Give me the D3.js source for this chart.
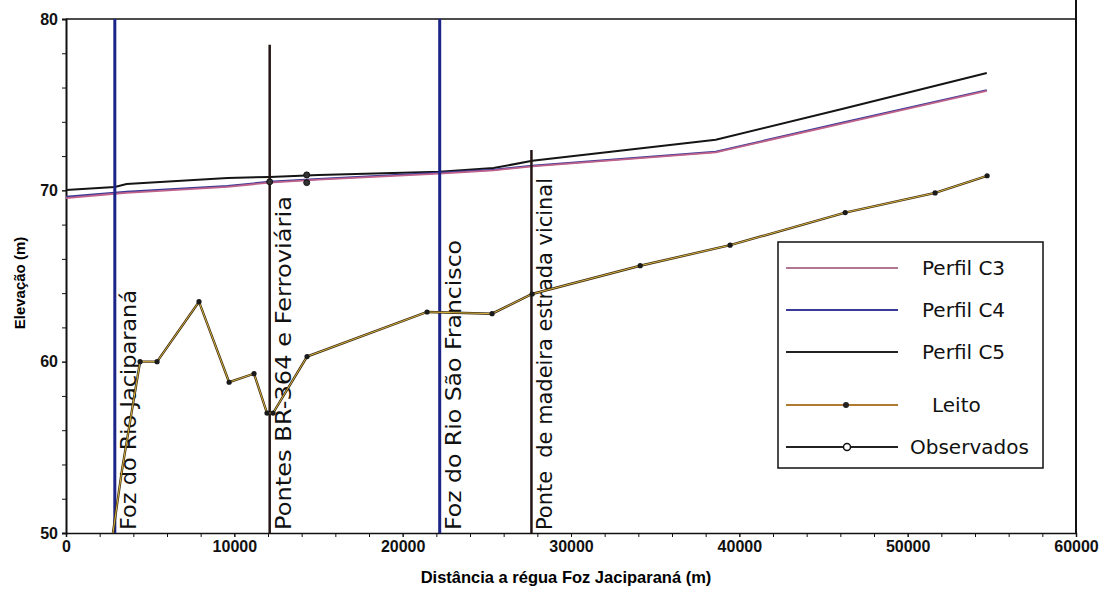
<!DOCTYPE html>
<html>
<head>
<meta charset="utf-8">
<script src="https://cdn.jsdelivr.net/npm/d3@7"></script>
<style>
  body { margin: 0; background: #fff; }
  svg { font-family: Arial, "Liberation Sans", sans-serif; }
  .tick text { font-weight: bold; font-size: 16px; fill: #111; }
  .domain, .tick line { stroke: #111; }
  .lbl { font-family: "DejaVu Sans", Arial, sans-serif; fill: #111; }
</style>
</head>
<body>
<div id="chart"></div>
<script>
// distances (m) where the simulated profiles were read
var perfilX  = [0, 2900, 3600, 9600, 12100, 15000, 22200, 25400, 27700, 38600, 46100, 54700];
var perfilC3 = [69.55, 69.8, 69.85, 70.2, 70.45, 70.62, 70.98, 71.16, 71.4, 72.22, 73.9, 75.8];
var perfilC4 = [69.62, 69.86, 69.92, 70.25, 70.5, 70.66, 71.02, 71.2, 71.44, 72.25, 73.95, 75.85];
var perfilC5 = [70.02, 70.2, 70.37, 70.72, 70.78, 70.9, 71.08, 71.3, 71.72, 72.95, 74.75, 76.85];

// river bed
var leitoX = [2790, 3330, 4400, 5410, 7900, 9690, 11170, 11940, 12300, 14320, 21450, 25310, 27690, 34110, 39450, 46290, 51630, 54720];
var leitoY = [50.0, 53.7, 60.0, 60.0, 63.5, 58.8, 59.3, 57.0, 57.0, 60.3, 62.9, 62.8, 63.95, 65.6, 66.8, 68.7, 69.85, 70.85];

// observed water levels
var obsX = [12100, 14300, 14300];
var obsY = [70.5, 70.9, 70.45];

// reference points along the river
var refNames = ["Foz do Rio Jaciparaná", "Pontes BR-364 e Ferroviária", "Foz do Rio São Francisco", "Ponte  de madeira estrada vicinal"];
var refX     = [2900, 12100, 22200, 27650];
var refTop   = [80, 78.5, 80, 72.35];
var refKind  = ["foz", "ponte", "foz", "ponte"];

var xTicks = [0, 10000, 20000, 30000, 40000, 50000, 60000];
var yTicks = [50, 60, 70, 80];

var legendNames = ["Perfil C3", "Perfil C4", "Perfil C5", "Leito", "Observados"];

var width = 1105, height = 600;
var svg = d3.select("#chart").append("svg")
  .attr("width", width).attr("height", height);

var x = d3.scaleLinear().domain([0, 60000]).range([66, 1076]);
var y = d3.scaleLinear().domain([50, 80]).range([533, 19]);

// frame (top and right)
svg.append("line").attr("x1", x(0)).attr("x2", x(60000)).attr("y1", y(80)).attr("y2", y(80))
  .attr("stroke", "#111").attr("stroke-width", 1.5);
svg.append("line").attr("x1", x(60000)).attr("x2", x(60000)).attr("y1", 0).attr("y2", y(50))
  .attr("stroke", "#111").attr("stroke-width", 2);

// axes
svg.append("g").attr("transform", "translate(0," + y(50) + ")")
  .call(d3.axisBottom(x).tickValues(d3.range(0, 60001, 2000)).tickSize(4).tickFormat(""))
  .call(g => g.select(".domain").attr("stroke-width", 1.5));
svg.append("g").attr("transform", "translate(0," + y(50) + ")")
  .call(d3.axisBottom(x).tickValues(xTicks).tickSize(4).tickPadding(4).tickFormat(d3.format("d")))
  .call(g => g.select(".domain").remove());
svg.append("g").attr("transform", "translate(" + x(0) + ",0)")
  .call(d3.axisLeft(y).tickValues(d3.range(50, 81, 2)).tickSize(4).tickFormat(""))
  .call(g => g.select(".domain").attr("stroke-width", 2));
svg.append("g").attr("transform", "translate(" + x(0) + ",0)")
  .call(d3.axisLeft(y).tickValues(yTicks).tickSize(4).tickPadding(4))
  .call(g => g.select(".domain").remove());

svg.append("text").attr("transform", "translate(25,283) rotate(-90)")
  .attr("text-anchor", "middle").style("font-size", "15px").style("font-weight", "bold")
  .text("Elevação (m)");
svg.append("text").attr("x", 566).attr("y", 583)
  .attr("text-anchor", "middle").style("font-size", "16.5px").style("font-weight", "bold")
  .text("Distância a régua Foz Jaciparaná (m)");

// profile lines
function profile(vals) {
  return d3.line().x((d, i) => x(perfilX[i])).y(d => y(d))(vals);
}
svg.append("path").attr("d", profile(perfilC5)).attr("fill", "none").attr("stroke", "#151515").attr("stroke-width", 2);
svg.append("path").attr("d", profile(perfilC4)).attr("fill", "none").attr("stroke", "#3a3a98").attr("stroke-width", 2);
svg.append("path").attr("d", profile(perfilC3)).attr("fill", "none").attr("stroke", "#c0628a").attr("stroke-width", 1.8);

// reference vertical lines with labels (label lengths stretched to the scan)
var labelLen = [240, 334, 290, 352];
refX.forEach(function (v, i) {
  var foz = refKind[i] == "foz";
  svg.append("line").attr("x1", x(v)).attr("x2", x(v)).attr("y1", y(refTop[i])).attr("y2", y(50))
    .attr("stroke", foz ? "#1c2488" : "#241414").attr("stroke-width", foz ? 3 : 2.5);
  svg.append("text").attr("class", "lbl")
    .attr("transform", "translate(" + (x(v) + 21) + "," + (y(50) - 3) + ") rotate(-90)")
    .style("font-size", "21px").attr("xml:space", "preserve")
    .attr("textLength", labelLen[i]).attr("lengthAdjust", "spacingAndGlyphs")
    .text(refNames[i]);
});

// river bed
var leitoLine = d3.line().x((d, i) => x(leitoX[i])).y(d => y(d));
svg.append("path").attr("d", leitoLine(leitoY)).attr("fill", "none").attr("stroke", "#3a2a12").attr("stroke-width", 2.4);
svg.append("path").attr("d", leitoLine(leitoY)).attr("fill", "none").attr("stroke", "#d8b440").attr("stroke-width", 1);
svg.selectAll(".leito").data(leitoY.slice(2)).enter().append("circle")
  .attr("cx", (d, i) => x(leitoX[i + 2])).attr("cy", d => y(d)).attr("r", 2.6).attr("fill", "#1a1a1a");

// observed
svg.selectAll(".obs").data(obsY).enter().append("circle")
  .attr("cx", (d, i) => x(obsX[i])).attr("cy", d => y(d)).attr("r", 3)
  .attr("fill", "#333").attr("stroke", "#111").attr("stroke-width", 1);

// legend
var lg = svg.append("g").attr("transform", "translate(778,242)");
lg.append("rect").attr("width", 265).attr("height", 226).attr("fill", "#fff")
  .attr("stroke", "#111").attr("stroke-width", 1.5);
var legendY = [26, 68, 110, 163, 205];
var legendColor = ["#b07890", "#3a3a98", "#222", "#b07a30", "#222"];
var legendTextX = [144, 144, 144, 154, 132];
legendNames.forEach(function (name, i) {
  lg.append("line").attr("x1", 8).attr("x2", 120).attr("y1", legendY[i]).attr("y2", legendY[i])
    .attr("stroke", legendColor[i]).attr("stroke-width", 2);
  if (i == 3) lg.append("circle").attr("cx", 68).attr("cy", legendY[i]).attr("r", 3).attr("fill", "#222");
  if (i == 4) lg.append("circle").attr("cx", 69).attr("cy", legendY[i]).attr("r", 3.5)
    .attr("fill", "#fff").attr("stroke", "#111").attr("stroke-width", 1.5);
  lg.append("text").attr("class", "lbl").attr("x", legendTextX[i]).attr("y", legendY[i] + 7)
    .style("font-size", "20px").text(name);
});
</script>
</body>
</html>
